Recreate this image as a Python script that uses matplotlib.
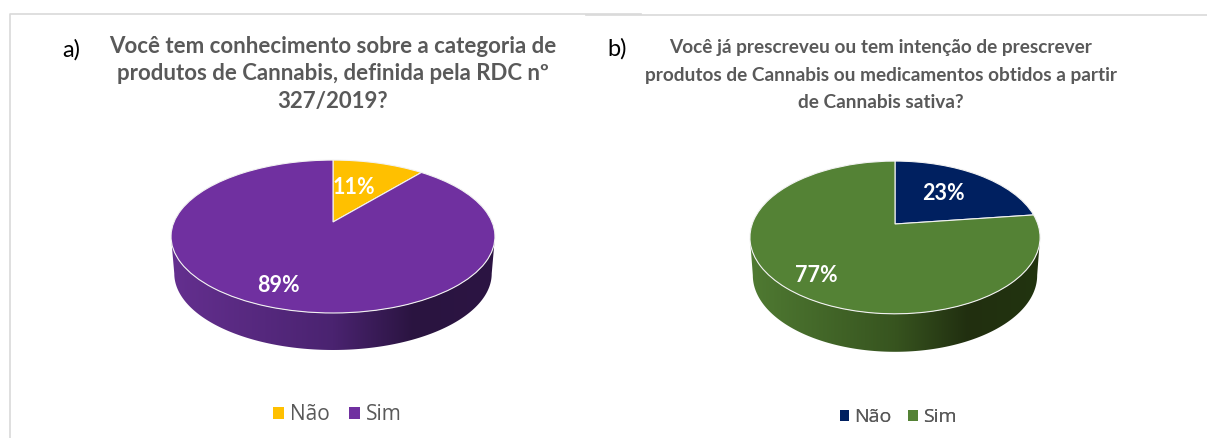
import numpy as np
import matplotlib
matplotlib.use("Agg")
import matplotlib.pyplot as plt
from matplotlib.colors import LinearSegmentedColormap
from matplotlib.patches import Patch, Polygon
from matplotlib.transforms import Transform

labels = ["Não", "Sim"]
values_a = [11, 89]
values_b = [23, 77]
colors_a = ["#FFC000", "#7030A0"]
colors_b = ["#002060", "#548235"]
side_a = ["#642f8f", "#4a2370", "#2a1440", "#2c1543"]
side_b = ["#4f7a32", "#37541f", "#212f10", "#22340f"]
title_a = "Você tem conhecimento sobre a categoria de\nprodutos de Cannabis, definida pela RDC nº\n327/2019?"
title_b = "Você já prescreveu ou tem intenção de prescrever\nprodutos de Cannabis ou medicamentos obtidos a partir\nde Cannabis sativa?"

W, H = 1207, 438
FONT = "Lato"


class Persp(Transform):
    # tilted pie seen in perspective, unit circle -> pixels
    input_dims = 2
    output_dims = 2

    def __init__(self, cx, cy, sx, sy, p):
        Transform.__init__(self)
        self.cx, self.cy, self.sx, self.sy, self.p = cx, cy, sx, sy, p

    def transform_non_affine(self, pts):
        pts = np.asarray(pts, dtype=float)
        w = 1 + self.p * pts[:, 1]
        return np.column_stack([self.cx + self.sx * pts[:, 0] / w,
                                self.cy - self.sy * pts[:, 1] / w])


def draw_pie(ax, values, colors, side, persp, depth, label_pos):
    t = np.linspace(0, 2 * np.pi, 721)
    rim = persp.transform_non_affine(np.column_stack([np.cos(t), np.sin(t)]))
    lower = rim[rim[:, 1] >= rim[np.argmin(rim[:, 0]), 1] - 0.01]
    lower = lower[np.argsort(lower[:, 0])]
    mid = persp.cx
    bottom = np.column_stack([mid + (lower[:, 0] - mid) * 0.98, lower[:, 1] + depth])
    outline = np.vstack([lower, bottom[::-1]])

    x0, x1 = outline[:, 0].min(), outline[:, 0].max()
    y0, y1 = outline[:, 1].min(), outline[:, 1].max()
    cmap = LinearSegmentedColormap.from_list("side", list(zip([0, 0.5, 0.75, 1], side)))
    im = ax.imshow(np.linspace(0, 1, 256)[None, :], cmap=cmap, aspect="auto",
                   extent=(x0, x1, y1, y0), zorder=1)
    clip = Polygon(outline, closed=True, transform=ax.transData, fc="none", ec="none")
    ax.add_patch(clip)
    im.set_clip_path(clip)

    wedges, _ = ax.pie(values, colors=colors, startangle=90, counterclock=False,
                       wedgeprops={"edgecolor": "#f2f2f2", "linewidth": 0.8, "zorder": 2})
    for w in wedges:
        w.set_transform(persp + ax.transData)
        w.set_clip_on(False)

    for v, (x, y) in zip(values, label_pos):
        ax.text(x, y, f"{v}%", color="white", fontsize=15.5, fontweight="bold",
                family=FONT, ha="center", va="center", zorder=3)


def add_legend(ax, colors, anchor, size, pad, spacing):
    handles = [Patch(facecolor=c, edgecolor="none", label=l) for c, l in zip(colors, labels)]
    leg = ax.legend(handles=handles, loc="center", bbox_to_anchor=anchor,
                    bbox_transform=ax.transData, ncol=2, frameon=False,
                    prop={"family": "Open Sans", "size": size},
                    labelcolor="#595959", handlelength=0.5, handleheight=0.5,
                    handletextpad=pad, columnspacing=spacing, borderpad=0)
    ax.add_artist(leg)


fig = plt.figure(figsize=(W / 100, H / 100), dpi=100)
ax = fig.add_axes([0, 0, 1, 1])

draw_pie(ax, values_a, colors_a, side_a, Persp(333, 222, 159, 73.7, 0.19), 37,
         [(354, 187), (278, 285)])
draw_pie(ax, values_b, colors_b, side_b, Persp(895, 224, 142.8, 74, 0.176), 38,
         [(943, 194), (816, 276)])

ax.set_xlim(0, W)
ax.set_ylim(H, 0)
ax.set_aspect("auto")
ax.axis("off")

# panel borders
ax.plot([10, 10, 641], [438, 13.5, 13.5], color="#d9d9d9", lw=1.2, zorder=0)
ax.plot([586, W], [15, 15], color="#d9d9d9", lw=1.2, zorder=0)

ax.text(333, 74, title_a, color="#595959", fontsize=16, fontweight="bold", family=FONT,
        ha="center", va="center", linespacing=1.41)
ax.text(881, 75, title_b, color="#595959", fontsize=13.65, fontweight="bold", family=FONT,
        ha="center", va="center", linespacing=1.78)
ax.text(71, 50, "a)", color="black", fontsize=17, family=FONT, ha="center", va="center")
ax.text(617, 49, "b)", color="black", fontsize=17, family=FONT, ha="center", va="center")

add_legend(ax, colors_a, (337.5, 415), 15, 0.3, 0.95)
add_legend(ax, colors_b, (898, 417), 14, 0.25, 0.85)

fig.savefig("out.png", dpi=100)
